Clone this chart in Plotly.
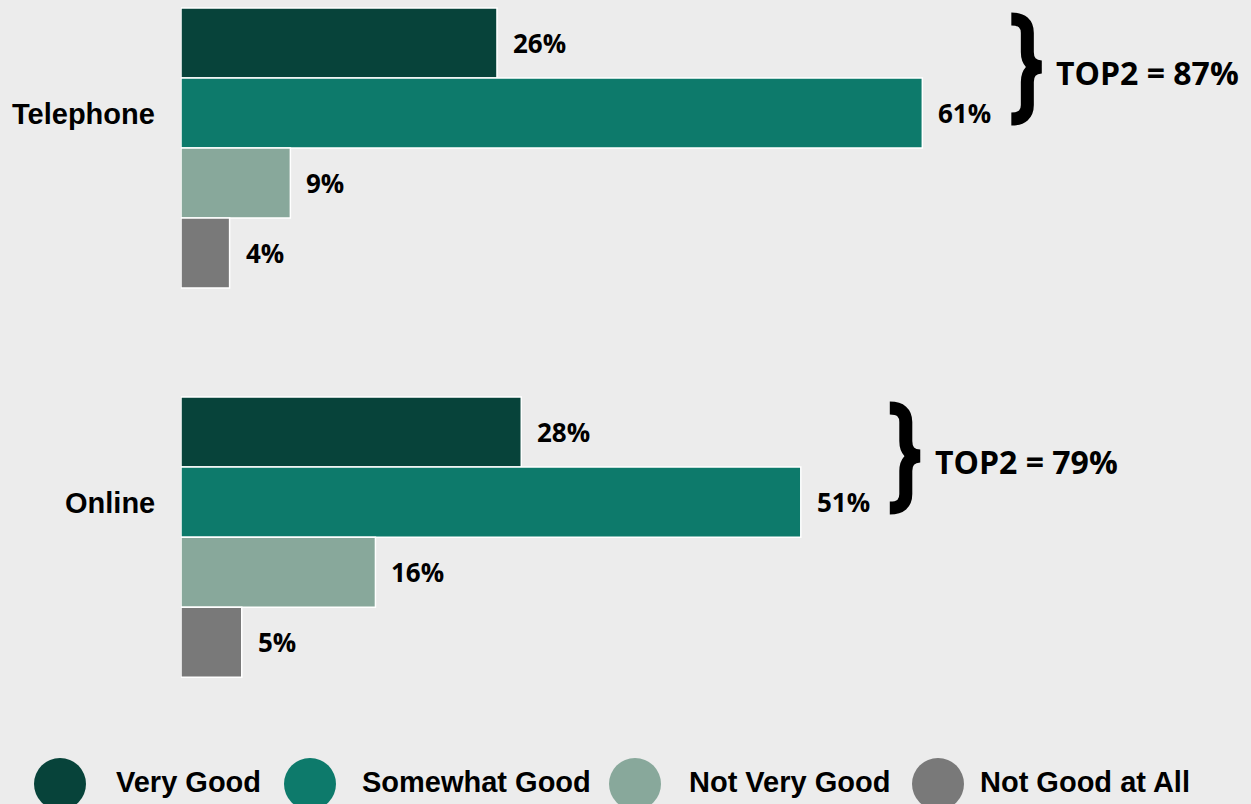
import plotly.graph_objects as go

# Survey data: rating of service quality by channel (percent)
channels = ["Telephone", "Online"]
ratings = ["Very Good", "Somewhat Good", "Not Very Good", "Not Good at All"]
telephone = [26, 61, 9, 4]
online = [28, 51, 16, 5]
top2 = [87, 79]
colors = ["#07433A", "#0D7A6B", "#88A89B", "#797979"]

values_by_rating = [[telephone[i], online[i]] for i in range(len(ratings))]

W, H = 1251, 804
ML, MR, MT, MB = 181, 37, 0, 84
PW, PH = W - ML - MR, H - MT - MB
BG = "#ECECEC"

LABEL_FONT = dict(family="Open Sans", size=26, color="#000000")
ARIAL_BOLD = "Liberation Sans"


def px_to_paper_x(px):
    return (px - ML) / PW


def px_to_paper_y(py):
    return 1 - (py - MT) / PH


def brace_path(points_down):
    """Build an SVG path from (x, y-down) pixel offsets; plotly pixel mode uses y-up."""
    out = []
    for cmd, pts in points_down:
        coords = " ".join(f"{x},{-y}" for x, y in pts)
        out.append(f"{cmd} {coords}")
    return " ".join(out)


# curly brace outline in pixel offsets from the anchor (end of the longest top-2 bar)
BRACE = brace_path([
    ("M", [(89, -59)]),
    ("Q", [(105, -59), (105, -45)]),
    ("L", [(105, -26)]),
    ("Q", [(105, -12), (119, -11)]),
    ("Q", [(105, -10), (105, 4)]),
    ("L", [(105, 27)]),
    ("Q", [(105, 41), (89, 41)]),
])

fig = go.Figure()
for name, vals, col in zip(ratings, values_by_rating, colors):
    fig.add_trace(go.Bar(
        y=channels, x=vals, name=name, orientation="h",
        marker=dict(color=col, line=dict(color="#FFFFFF", width=1.5)),
        showlegend=False, hoverinfo="skip",
    ))

n = len(ratings)
group_w = 0.72
bar_w = group_w / n
annotations = []
shapes = []

# value labels beside each bar
for k, (vals, name) in enumerate(zip(values_by_rating, ratings)):
    for ci, v in enumerate(vals):
        ypos = ci - group_w / 2 + bar_w * (k + 0.5)
        annotations.append(dict(
            x=v, y=ypos, xref="x", yref="y", text=f"<b>{v}%</b>",
            showarrow=False, xanchor="left", yanchor="middle", xshift=14,
            font=LABEL_FONT,
        ))

# channel labels aligned with the second bar of each group
for ci, ch in enumerate(channels):
    annotations.append(dict(
        x=0, y=ci - group_w / 2 + bar_w * 1.5, xref="x", yref="y",
        text=f"<b>{ch}</b>", showarrow=False, xanchor="right", yanchor="middle",
        xshift=-24, yshift=-1, font=dict(family=ARIAL_BOLD, size=29, color="#000000"),
    ))

# braces and TOP2 totals next to the two positive ratings
for ci, total in enumerate(top2):
    top_vals = [values_by_rating[0][ci], values_by_rating[1][ci]]
    ymid = ci - group_w / 2 + bar_w
    shapes.append(dict(
        type="path", xref="x", yref="y",
        xsizemode="pixel", ysizemode="pixel",
        xanchor=max(top_vals), yanchor=ymid,
        path=BRACE, line=dict(color="#000000", width=13),
        fillcolor="rgba(0,0,0,0)",
    ))
    annotations.append(dict(
        x=max(top_vals), y=ymid, xref="x", yref="y", text=f"<b>TOP2 = {total}%</b>",
        showarrow=False, xanchor="left", yanchor="middle", xshift=132, yshift=6,
        font=dict(family="Open Sans", size=32, color="#000000"),
    ))

# custom legend with large round swatches
legend_circle_cx = [60, 310, 635, 938]
legend_text_x = [114, 360, 687, 978]
legend_cy = 784
legend_r = 26
for name, col, cx, tx in zip(ratings, colors, legend_circle_cx, legend_text_x):
    shapes.append(dict(
        type="circle", xref="paper", yref="paper",
        x0=px_to_paper_x(cx - legend_r), x1=px_to_paper_x(cx + legend_r),
        y0=px_to_paper_y(legend_cy + legend_r), y1=px_to_paper_y(legend_cy - legend_r),
        fillcolor=col, line=dict(width=0),
    ))
    annotations.append(dict(
        x=px_to_paper_x(tx), y=px_to_paper_y(782), xref="paper", yref="paper",
        text=f"<b>{name}</b>", showarrow=False, xanchor="left", yanchor="middle",
        font=dict(family=ARIAL_BOLD, size=29, color="#000000"),
    ))

fig.update_layout(
    width=W, height=H,
    margin=dict(l=ML, r=MR, t=MT, b=MB),
    paper_bgcolor=BG, plot_bgcolor=BG,
    barmode="group", bargap=1 - group_w, bargroupgap=0,
    xaxis=dict(range=[0, 85], visible=False),
    yaxis=dict(type="category", categoryorder="array", categoryarray=channels,
               range=[1.470, -0.3805], showticklabels=False, showgrid=False,
               zeroline=False, showline=False, ticks=""),
    annotations=annotations, shapes=shapes,
)

fig.write_html("out.html")
